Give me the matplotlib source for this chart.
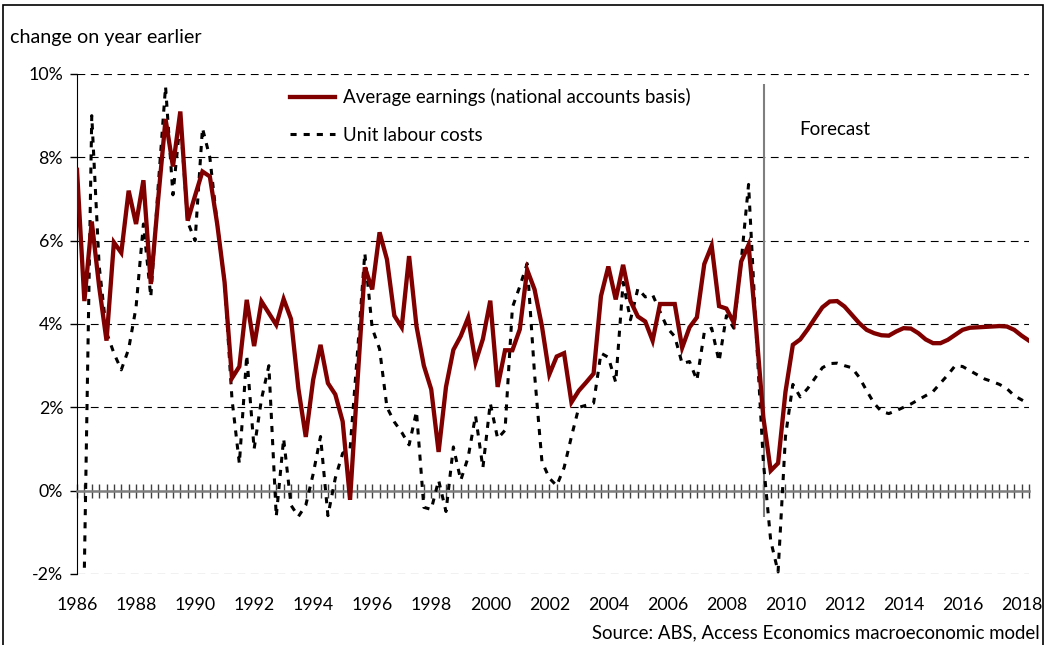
import numpy as np
import matplotlib.pyplot as plt
from matplotlib.patches import Rectangle

plt.rcParams['font.family'] = ['Lato', 'DejaVu Sans']

# quarterly series, first value = 1986 Q1 (per cent change on year earlier)
earnings = [
    7.70, 4.55, 6.46, 4.90, 3.60, 5.96, 5.71, 7.20, 6.40, 7.45,
    4.96, 7.00, 8.92, 7.78, 9.10, 6.48, 7.08, 7.66, 7.54, 6.40,
    5.00, 2.70, 2.98, 4.58, 3.47, 4.54, 4.26, 3.98, 4.60, 4.12,
    2.45, 1.29, 2.66, 3.50, 2.58, 2.31, 1.66, -0.22, 2.60, 5.36,
    4.83, 6.20, 5.55, 4.20, 3.92, 5.63, 3.95, 3.00, 2.43, 0.93,
    2.49, 3.38, 3.71, 4.15, 3.08, 3.64, 4.56, 2.49, 3.37, 3.37,
    3.87, 5.30, 4.83, 3.95, 2.79, 3.22, 3.30, 2.12, 2.40, 2.60,
    2.81, 4.67, 5.38, 4.59, 5.42, 4.55, 4.18, 4.06, 3.60, 4.48,
    4.48, 4.48, 3.43, 3.92, 4.16, 5.44, 5.88, 4.43, 4.37, 4.03,
    5.50, 5.90, 3.95, 1.76, 0.48, 0.66, 2.37, 3.50, 3.63, 3.87,
    4.14, 4.40, 4.54, 4.55, 4.42, 4.22, 4.02, 3.86, 3.78, 3.73,
    3.72, 3.82, 3.90, 3.89, 3.78, 3.63, 3.54, 3.54, 3.62, 3.74,
    3.86, 3.91, 3.92, 3.93, 3.94, 3.95, 3.94, 3.86, 3.72, 3.60,
]

unit_labour = [
    np.nan, -1.85, 9.00, 5.40, 3.80, 3.30, 2.90, 3.40, 4.40, 6.40,
    4.65, 7.30, 9.70, 7.10, 8.90, 6.45, 6.00, 8.70, 8.00, 6.40,
    5.00, 2.20, 0.65, 3.25, 1.00, 2.20, 3.00, -0.62, 1.25, -0.35,
    -0.62, -0.35, 0.40, 1.30, -0.60, 0.30, 0.90, 1.00, 3.30, 5.70,
    3.90, 3.40, 2.00, 1.65, 1.40, 1.10, 1.90, -0.40, -0.45, 0.25,
    -0.50, 1.05, 0.25, 0.80, 1.80, 0.55, 2.10, 1.25, 1.45, 4.40,
    4.90, 5.45, 2.80, 0.70, 0.30, 0.12, 0.55, 1.30, 2.00, 2.05,
    2.10, 3.30, 3.20, 2.60, 5.00, 4.10, 4.85, 4.65, 4.70, 4.30,
    3.90, 3.70, 3.05, 3.10, 2.65, 3.80, 3.90, 3.10, 4.20, 3.90,
    5.50, 7.35, 3.90, 0.70, -1.20, -1.95, 1.30, 2.55, 2.25, 2.45,
    2.70, 2.95, 3.05, 3.06, 3.00, 2.95, 2.72, 2.40, 2.10, 1.90,
    1.85, 1.92, 2.00, 2.08, 2.18, 2.28, 2.38, 2.58, 2.78, 3.00,
    2.98, 2.88, 2.78, 2.68, 2.62, 2.55, 2.45, 2.28, 2.18, 2.08,
]

year_labels = [str(y) for y in range(1986, 2019, 2)]
y_ticks = [-2, 0, 2, 4, 6, 8, 10]

# forecast starts here (quarter index) and the marker line span
forecast_start = 93.1
forecast_line = (-0.63, 9.76)

quarters = np.arange(len(earnings))

fig = plt.figure(figsize=(10.47, 6.45), dpi=100)
ax = fig.add_axes([77 / 1047, 1 - 574 / 645, (1029 - 77) / 1047, 500 / 645])

ax.plot(quarters, earnings, color='#800000', lw=3.1, solid_joinstyle='miter',
        label='Average earnings (national accounts basis)', zorder=4)
ax.plot(quarters, unit_labour, color='black', lw=2.2, linestyle=(0, (2.0, 2.3)),
        dash_capstyle='butt', label='Unit labour costs', zorder=3)

ax.vlines(forecast_start, *forecast_line, color='#7f7f7f', lw=1.5, zorder=2)
ax.text(forecast_start + 4.8, 8.66, 'Forecast', fontsize=13.5, va='center')

ax.set_xlim(0, len(earnings) - 1)
ax.set_ylim(-2, 10)

# y axis
ax.set_yticks(y_ticks)
ax.set_yticklabels([f'{v}%' for v in y_ticks])
ax.grid(axis='y', color='black', lw=0.8, linestyle=(0, (7, 5)), zorder=0)
ax.tick_params(axis='y', length=5, width=1, pad=5, labelsize=12.8)

# x axis sits on the zero line, ticks every quarter, labels at the bottom
ax.spines['bottom'].set_position(('data', 0))
ax.spines['bottom'].set_color('#7f7f7f')
ax.spines['bottom'].set_linewidth(1.8)
ax.spines['bottom'].set_zorder(2.5)
ax.spines['top'].set_visible(False)
ax.spines['right'].set_visible(False)
ax.set_xticks(quarters[::8])
ax.set_xticklabels(year_labels)
ax.set_xticks(quarters, minor=True)
ax.tick_params(axis='x', which='both', direction='inout', length=9.5,
               width=1, color='#404040', pad=72, labelsize=12.8)

ax.legend(loc='upper left', bbox_to_anchor=(0.224, 0.972), frameon=False,
          fontsize=13.5, handlelength=2.4, handletextpad=0.4,
          labelspacing=1.1, borderpad=0, borderaxespad=0)

fig.text(10 / 1047, 1 - 37 / 645, 'change on year earlier', fontsize=14.2, va='center')
fig.text(1040 / 1047, 1 - 633 / 645, 'Source: ABS, Access Economics macroeconomic model',
         fontsize=13.4, ha='right', va='center')

# outer frame
fig.patches.append(Rectangle((3 / 1047, -0.05), 1040 / 1047, 1.05 - 5 / 645,
                             transform=fig.transFigure, fill=False,
                             edgecolor='black', lw=1.2))

plt.savefig('out.png', dpi=100)
